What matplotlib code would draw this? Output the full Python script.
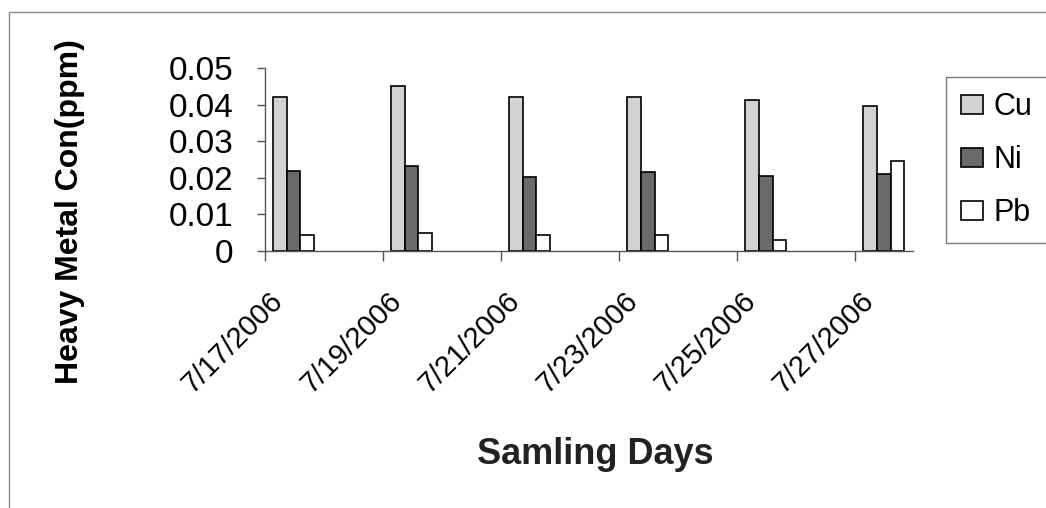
import matplotlib
matplotlib.use("Agg")
import matplotlib.pyplot as plt
import matplotlib.transforms as mtransforms
from matplotlib.patches import Rectangle
import numpy as np

plt.rcParams['font.family'] = ['Liberation Sans', 'DejaVu Sans']

dates = ['7/17/2006', '7/19/2006', '7/21/2006', '7/23/2006', '7/25/2006', '7/27/2006']
cu = [0.042, 0.045, 0.042, 0.042, 0.0413, 0.0397]
ni = [0.0218, 0.0233, 0.0203, 0.0216, 0.0204, 0.021]
pb = [0.0043, 0.005, 0.0043, 0.0043, 0.0029, 0.0247]
metals = ['Cu', 'Ni', 'Pb']
colors = ['#d2d2d2', '#6a6a6a', '#ffffff']

W, H = 1046, 508
fig = plt.figure(figsize=(W / 100, H / 100), dpi=100)
ax = fig.add_axes([265 / W, 1 - 251 / H, (913 - 265) / W, (251 - 68) / H])

x = np.arange(len(dates))
w = 0.116
off = 0.068
for k, (vals, c, name) in enumerate(zip([cu, ni, pb], colors, metals)):
    ax.bar(x + off + w * k + w / 2, vals, w, color=c, edgecolor='black',
           linewidth=1.2, label=name)

ax.set_xlim(0, 5.49)
ax.set_ylim(0, 0.05)
ax.set_yticks([0, 0.01, 0.02, 0.03, 0.04, 0.05])
ax.set_yticklabels(['0', '0.01', '0.02', '0.03', '0.04', '0.05'])
ax.set_xticks(x)

for s in ['top', 'right']:
    ax.spines[s].set_visible(False)
for s in ['left', 'bottom']:
    ax.spines[s].set_color('#555555')
    ax.spines[s].set_linewidth(1.0)
ax.tick_params(axis='y', direction='out', length=6, width=1.0, color='#555555',
               pad=17, labelsize=24)
ax.tick_params(axis='x', direction='out', length=7, width=1.0, color='#555555',
               pad=4, labelsize=21)

ax.set_xticklabels(dates, rotation=45, ha='right', va='center',
                   rotation_mode='anchor')
# push the date labels down and right like the original
shift = mtransforms.ScaledTranslation(14 / 100, -30 / 100, fig.dpi_scale_trans)
for lab in ax.get_xticklabels():
    lab.set_transform(lab.get_transform() + shift)

fig.text(70 / W, 1 - 212 / H, 'Heavy Metal Con(ppm)', rotation=90,
         ha='center', va='center', fontsize=23, fontweight='bold')
fig.text(595 / W, 1 - 454 / H, 'Samling Days', ha='center', va='center',
         fontsize=26, fontweight='bold', color='#222222')

leg = fig.legend(loc='upper left', bbox_to_anchor=(946 / W, 1 - 77 / H),
                 bbox_transform=fig.transFigure, fontsize=22, fancybox=False,
                 handlelength=0.7, handleheight=0.6, handletextpad=0.35,
                 labelspacing=0.75, borderpad=0.5, borderaxespad=0)
leg.get_frame().set_edgecolor('#555555')
leg.get_frame().set_linewidth(1.0)

fig.patches.append(Rectangle((9 / W, -0.1), 1.2, (H - 12) / H + 0.1,
                             transform=fig.transFigure, fill=False,
                             edgecolor='#888888', linewidth=1.0))

fig.savefig('out.png', dpi=100)
